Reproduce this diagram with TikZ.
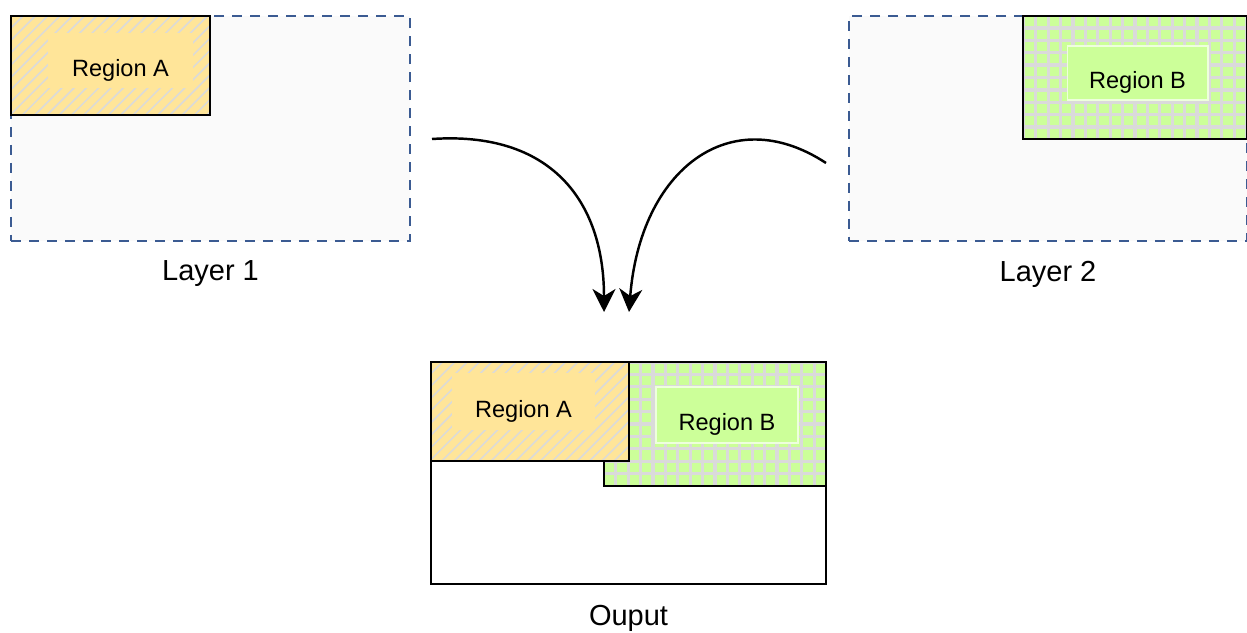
\documentclass[tikz,border=0pt]{standalone}
\usepackage{fontspec}
\setmainfont{Liberation Sans}
\usetikzlibrary{positioning,arrows.meta}
\definecolor{layerblue}{HTML}{3B5B92}
\definecolor{layerfill}{HTML}{FAFAFA}
\definecolor{yellowA}{HTML}{FFE599}
\definecolor{greenB}{HTML}{CCFF99}
\definecolor{hatchgray}{HTML}{DADADA}
\definecolor{patchline}{HTML}{EEFFDD}

\begin{document}
\begin{tikzpicture}[x=0.02cm, y=-0.02cm,
  box/.style={inner sep=0, outer sep=0, line width=1.4pt},
  layerbox/.style={box, draw=layerblue, fill=layerfill, line width=1.6pt, dash pattern=on 0.2cm off 0.16cm},
  outbox/.style={box, draw=black, fill=white},
  regA/.style={box, draw=black, fill=yellowA, path picture={
    \foreach \k in {-260,-247.7,...,260}
      \draw[hatchgray, line width=0.03cm] ([shift={(\k-150,150)}]path picture bounding box.center) -- ++(300,-300);}},
  regB/.style={box, draw=black, fill=greenB, path picture={
    \draw[hatchgray, line width=0.065cm, step=0.248cm]
      (path picture bounding box.south west) grid (path picture bounding box.north east);}},
  patchA/.style={fill=yellowA, inner sep=0, text height=18pt, text depth=0pt, font=\fontsize{13.4}{16}\selectfont},
  patchB/.style={fill=greenB, draw=patchline, line width=0.6pt, inner sep=0, text height=18pt, text depth=0pt, font=\fontsize{13.4}{16}\selectfont},
  lbl/.style={inner sep=0, font=\fontsize{16.5}{20}\selectfont},
  arr/.style={-{Stealth[length=4.6mm,width=4.6mm,inset=1.4mm]}, line width=1.4pt}]
\useasboundingbox (0,0) rectangle (1247,632);
% layer 1
\node[layerbox, minimum width=7.98cm, minimum height=4.5cm] (layer1) at (210.5,128.5) {};
\node[regA, minimum width=3.98cm, minimum height=1.98cm] (regA1) at (110.5,65.5) {};
\node[patchA, minimum width=2.9cm, minimum height=1.1cm] (labA1) at (120.5,60.5) {Region A};
\node[lbl, below=0.39cm of layer1] (lay1txt) {Layer 1};
% layer 2
\node[layerbox, minimum width=7.96cm, minimum height=4.5cm] (layer2) at (1048,128.5) {};
\node[regB, minimum width=4.48cm, minimum height=2.46cm] (regB2) at (1135,77.5) {};
\node[patchB, minimum width=2.82cm, minimum height=1.08cm] (labB2) at (1137.5,73) {Region B};
\node[lbl, below=0.39cm of layer2] (lay2txt) {Layer 2};
% output
\node[outbox, minimum width=7.9cm, minimum height=4.44cm] (out) at (628.5,473) {};
\node[regB, minimum width=4.44cm, minimum height=2.48cm] (regBo) at (715,424) {};
\node[regA, minimum width=3.96cm, minimum height=1.98cm] (regAo) at (530,411.5) {};
\node[patchA, minimum width=2.86cm, minimum height=1.14cm] (labAo) at (523.5,401.5) {Region A};
\node[patchB, minimum width=2.84cm, minimum height=1.12cm] (labBo) at (727,415) {Region B};
\node[lbl, below=0.41cm of out] (outtxt) {Ouput};
% merge arrows
\coordinate (s1) at (432,139);
\coordinate (e1) at (604,312);
\coordinate (s2) at (826,163);
\coordinate (e2) at (629,312);
\draw[arr] (s1) .. controls (550,131) and (604,200) .. (e1);
\draw[arr] (s2) .. controls (730,100) and (640,170) .. (e2);
\end{tikzpicture}
\end{document}
